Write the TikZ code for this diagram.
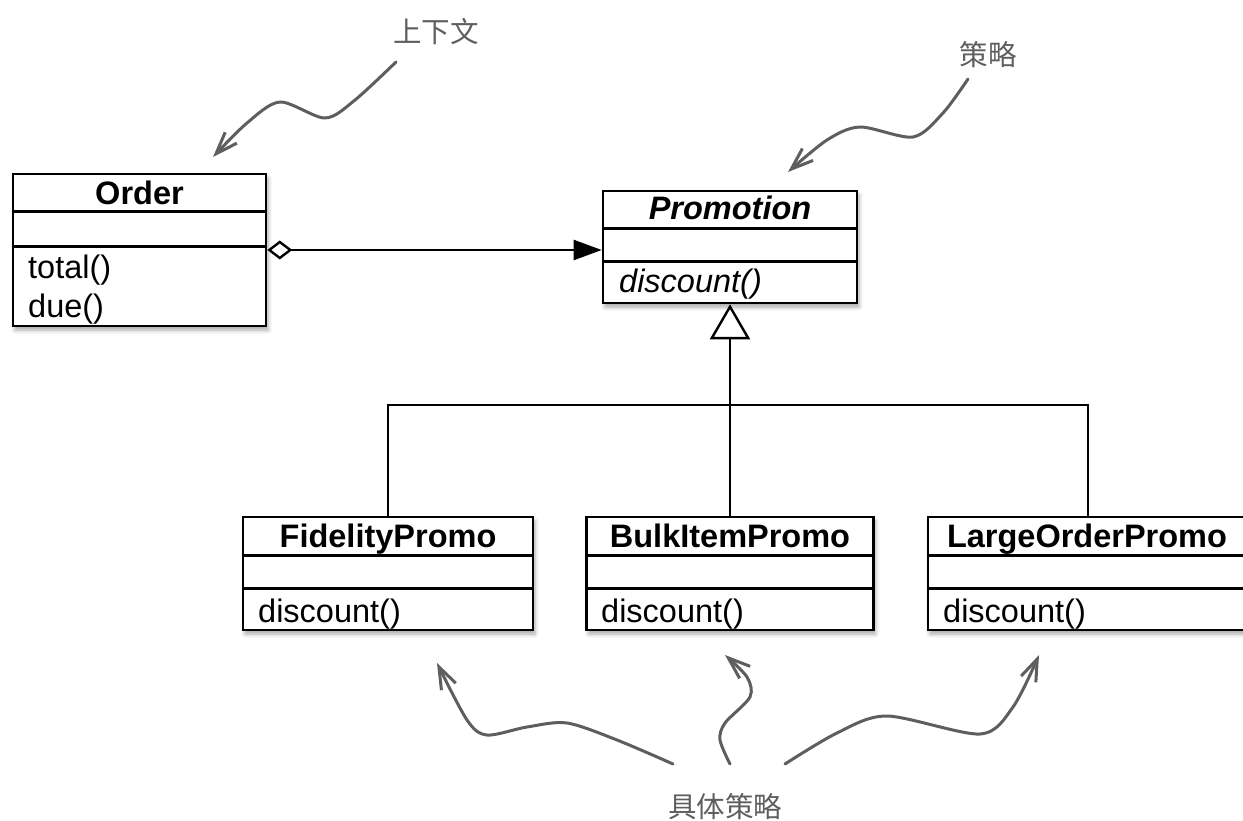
\documentclass[tikz,border=0pt]{standalone}
\usepackage{fontspec}
\setmainfont{Liberation Sans}
\newfontfamily\cjk{Noto Sans CJK SC}
\usetikzlibrary{arrows.meta,shadows.blur,calc}
\definecolor{annoc}{HTML}{5E5E5E}
\begin{document}
\begin{tikzpicture}[x=1pt,y=-1pt,
  cls/.style={draw=black, line width=2.6pt, fill=white, rectangle, inner sep=0pt,
    blur shadow={shadow xshift=2pt, shadow yshift=-4pt, shadow blur radius=4pt, shadow opacity=35}},
  ttl/.style={font=\fontsize{32.5}{39}\selectfont\bfseries, anchor=base, inner sep=0pt},
  mth/.style={font=\fontsize{32.5}{39}\selectfont, anchor=base west, inner sep=0pt},
  divider/.style={line width=2.6pt, black},
  conn/.style={line width=2.4pt, black},
  anno/.style={draw=annoc, line width=3pt, line cap=round, line join=round,
    -{Straight Barb[length=22pt,width=16pt]}},
  lbl/.style={font=\fontsize{28.5}{34}\selectfont\cjk, text=annoc, inner sep=0pt}
]
\useasboundingbox (0,0) rectangle (1243,821);
\clip (0,0) rectangle (1243,821);

% class boxes
\node[cls, minimum width=253pt, minimum height=152pt] (order) at (139.5,250) {};
\node[cls, minimum width=254pt, minimum height=112pt] (promo) at (730,247) {};
\node[cls, minimum width=290pt, minimum height=113pt] (fid) at (388,573.5) {};
\node[cls, minimum width=287pt, minimum height=113pt] (bulk) at (730,573.5) {};
\node[cls, minimum width=320pt, minimum height=113pt] (large) at (1088,573.5) {};

% dividers
\foreach \n/\a/\b in {order/39/74, promo/39/72, fid/40/73, bulk/40/73, large/40/73}{
  \draw[divider] ([yshift=-\a pt]\n.north west) -- ([yshift=-\a pt]\n.north east);
  \draw[divider] ([yshift=-\b pt]\n.north west) -- ([yshift=-\b pt]\n.north east);
}

% texts
\node[ttl] (ordert) at (139.5,205) {Order};
\node[mth] (ordm1) at (28,279) {total()};
\node[mth] (ordm2) at (28,317) {due()};
\node[ttl, font=\fontsize{32.5}{39}\selectfont\bfseries\itshape] (promot) at (730,220) {Promotion};
\node[mth, font=\fontsize{32.5}{39}\selectfont\itshape] (promom) at (619,293) {discount()};
\node[ttl] (fidt) at (388,547) {FidelityPromo};
\node[mth] (fidm) at (258,622) {discount()};
\node[ttl] (bulkt) at (730,547) {BulkItemPromo};
\node[mth] (bulkm) at (601,622) {discount()};
\node[ttl] (larget) at (1087,547) {LargeOrderPromo};
\node[mth] (largem) at (943,622) {discount()};

% aggregation
\draw[conn, {Diamond[open,length=25pt,width=19pt]}-{Triangle[length=28pt,width=20pt]}]
  (order.east) -- (order.east -| promo.west);

% generalization
\draw[conn, -{Triangle[open,length=35pt,width=40pt]}] (bulk.north) -- (promo.south);
\coordinate (bus) at (730,405);
\draw[conn] (fid.north) |- (bus) -| (large.north);

% annotation labels
\node[lbl] (ctx) at (436,32) {上下文};
\node[lbl] (strat) at (988,55) {策略};
\node[lbl] (conc) at (725,807) {具体策略};

% annotation arrows
\draw[anno] plot[smooth] coordinates {(396,62) (355,100) (325,118) (280,102) (247,123) (213,157)};
\draw[anno] plot[smooth] coordinates {(968,79) (943,113) (913,137) (860,127) (827,140) (788,172)};
\draw[anno] plot[smooth] coordinates {(673,764) (617,740) (567,723) (527,727) (487,735) (467,720) (437,663)};
\draw[anno] plot[smooth] coordinates {(730,764) (720,740) (725,723) (750,697) (747,677) (725,655)};
\draw[anno] plot[smooth] coordinates {(785,764) (837,733) (887,716) (980,734) (1013,707) (1039,655)};
\end{tikzpicture}
\end{document}
